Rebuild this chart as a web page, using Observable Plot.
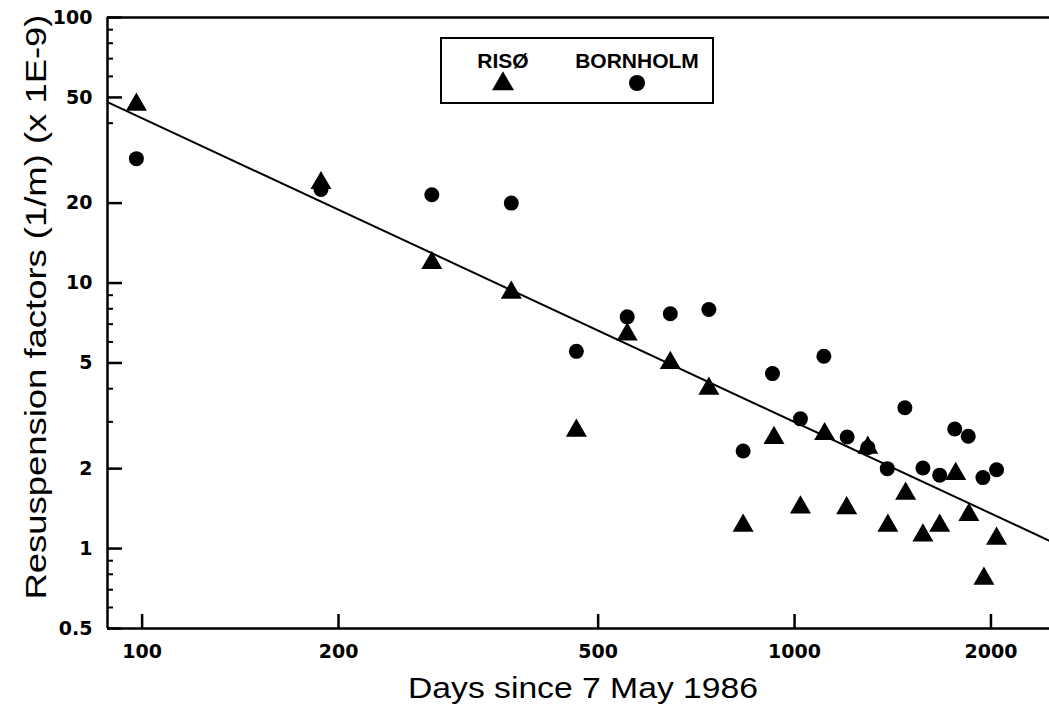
<!DOCTYPE html>
<html>
<head>
<meta charset="utf-8">
<script src="https://cdn.jsdelivr.net/npm/d3@7"></script>
<script src="https://cdn.jsdelivr.net/npm/@observablehq/plot@0.6"></script>
<style>
  body { margin: 0; background: #fff; }
  #chart { position: relative; width: 1049px; height: 708px; overflow: hidden; }
</style>
</head>
<body>
<div id="chart"></div>
<script>
// ---- data ----
const risoDays = [98, 188, 278, 368, 463, 554, 645, 739, 834, 930, 1021, 1112, 1202, 1295, 1390, 1480, 1573, 1669, 1766, 1850, 1951, 2040];
const risoValues = [47, 23.8, 11.9, 9.2, 2.78, 6.4, 5.0, 4.0, 1.22, 2.61, 1.43, 2.70, 1.42, 2.40, 1.22, 1.61, 1.12, 1.22, 1.91, 1.34, 0.77, 1.09];

const bornholmDays = [98, 188, 278, 368, 463, 554, 645, 739, 834, 925, 1021, 1109, 1204, 1295, 1387, 1476, 1573, 1669, 1760, 1846, 1944, 2040];
const bornholmValues = [29.4, 22.5, 21.5, 20.0, 5.53, 7.46, 7.66, 7.95, 2.33, 4.56, 3.08, 5.30, 2.63, 2.40, 2.0, 3.39, 2.01, 1.89, 2.82, 2.65, 1.85, 1.98];

const fitDays = [88.5, 2459];
const fitValues = [48, 1.07];

const xDomain = [88.5, 2459];
const yDomain = [0.5, 100];
const xTicks = [100, 200, 500, 1000, 2000];
const yTicks = [0.5, 1, 2, 5, 10, 20, 50, 100];
const yMinorTicks = [0.6, 0.7, 0.8, 0.9, 3, 4, 6, 7, 8, 9, 40, 60, 70, 80, 90];

const seriesNames = ["RISØ", "BORNHOLM"];
const xTitle = "Days since 7 May 1986";
const yTitle = "Resuspension factors (1/m) (x 1E-9)";

// ---- tables ----
const riso = risoDays.map((d, i) => ({day: d, value: risoValues[i]}));
const bornholm = bornholmDays.map((d, i) => ({day: d, value: bornholmValues[i]}));
const fit = fitDays.map((d, i) => ({day: d, value: fitValues[i]}));

// ---- layout ----
const W = 1049, H = 708, mL = 107, mR = 0, mT = 17, mB = 80;
const frameW = W - mL - mR, frameH = H - mT - mB;
const majorTickLen = 15, minorTickLen = 6, xTickLen = 14;

const plot = Plot.plot({
  width: W,
  height: H,
  marginLeft: mL,
  marginRight: mR,
  marginTop: mT,
  marginBottom: mB,
  style: {
    background: "#fff",
    color: "#000",
    fontFamily: "'DejaVu Sans', sans-serif",
    fontSize: "19px",
    fontWeight: "bold"
  },
  x: {type: "log", domain: xDomain, label: null},
  y: {type: "log", domain: yDomain, label: null},
  marks: [
    // inward ticks
    Plot.tickX(xTicks, {x: d => d, insetTop: frameH - xTickLen, stroke: "#000", strokeWidth: 2.5}),
    Plot.tickY(yTicks, {y: d => d, insetRight: frameW - majorTickLen, stroke: "#000", strokeWidth: 2.5}),
    Plot.tickY(yMinorTicks, {y: d => d, insetRight: frameW - minorTickLen, stroke: "#000", strokeWidth: 2}),
    // tick labels
    Plot.axisX(xTicks, {tickSize: 0, tickPadding: 16, tickFormat: d => String(d), label: null}),
    Plot.axisY(yTicks, {tickSize: 0, tickPadding: 15, tickFormat: d => String(d), label: null}),
    // frame lines
    Plot.ruleX([xDomain[0]], {stroke: "#000", strokeWidth: 2.5}),
    Plot.ruleY(yDomain, {stroke: "#000", strokeWidth: 2.5}),
    // data
    Plot.line(fit, {x: "day", y: "value", stroke: "#000", strokeWidth: 2}),
    Plot.dot(bornholm, {x: "day", y: "value", r: 7.5, symbol: "circle", fill: "#000", stroke: null}),
    Plot.dot(riso, {x: "day", y: "value", r: 7.8, symbol: "triangle", fill: "#000", stroke: null})
  ]
});

document.getElementById("chart").appendChild(plot);

// ---- axis titles and legend ----
const svg = d3.select(plot);
const titleFont = "'Liberation Sans', Arial, Helvetica, sans-serif";

svg.append("text")
  .attr("x", 583).attr("y", 698)
  .attr("text-anchor", "middle")
  .attr("font-family", titleFont)
  .attr("font-size", 29)
  .attr("font-weight", "normal")
  .attr("fill", "#000")
  .attr("textLength", 350)
  .attr("lengthAdjust", "spacingAndGlyphs")
  .text(xTitle);

svg.append("text")
  .attr("transform", "translate(46,307) rotate(-90)")
  .attr("text-anchor", "middle")
  .attr("font-family", titleFont)
  .attr("font-size", 29)
  .attr("font-weight", "normal")
  .attr("fill", "#000")
  .attr("textLength", 585)
  .attr("lengthAdjust", "spacingAndGlyphs")
  .text(yTitle);

const legend = svg.append("g").attr("aria-label", "legend");
legend.append("rect")
  .attr("x", 441).attr("y", 38).attr("width", 272).attr("height", 65)
  .attr("fill", "#fff").attr("stroke", "#000").attr("stroke-width", 2);
const legendItems = [
  {name: seriesNames[0], cx: 503, symbol: d3.symbolTriangle, size: 210, cy: 84},
  {name: seriesNames[1], cx: 637, symbol: d3.symbolCircle, size: Math.PI * 64, cy: 83}
];
legendItems.forEach(it => {
  legend.append("text")
    .attr("x", it.cx).attr("y", 68)
    .attr("text-anchor", "middle")
    .attr("font-family", titleFont)
    .attr("font-size", 21)
    .attr("font-weight", "bold")
    .attr("fill", "#000")
    .text(it.name);
  legend.append("path")
    .attr("transform", `translate(${it.cx},${it.cy})`)
    .attr("d", d3.symbol(it.symbol, it.size)())
    .attr("fill", "#000");
});
</script>
</body>
</html>
